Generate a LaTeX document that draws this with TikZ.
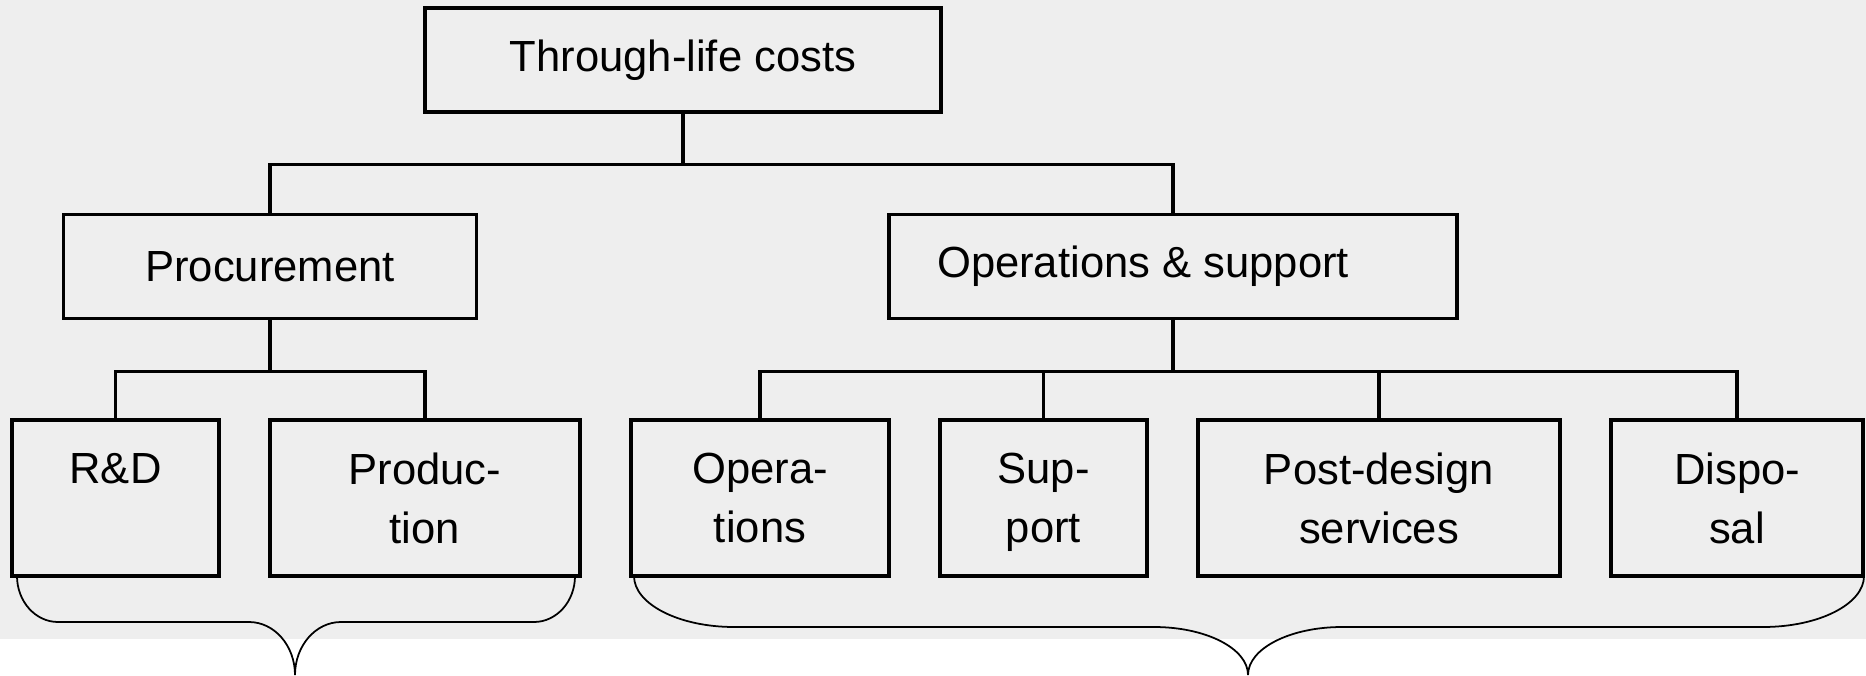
\documentclass[tikz,border=0pt]{standalone}
\usepackage{fontspec}
\setmainfont{Liberation Sans}
\usepackage{xcolor}
\usepackage{tikz}
\usetikzlibrary{calc, positioning}
\definecolor{panelgrey}{RGB}{238,238,238}
\newcommand{\boxfont}{\fontsize{12.4}{16.8}\selectfont}
\tikzset{
    boxnode/.style = {draw, rectangle, line width=0.9pt, inner sep = 0em, node distance=0em, 
      font=\boxfont, align=center},
    headnode/.style = {boxnode, minimum height=1.04cm},
    leafnode/.style = {boxnode, minimum height=1.56cm},
    connect/.style = {black, line width=0.9pt},
    bracket/.style = {black, line width=0.5pt}
}
\begin{document}
\begin{tikzpicture}
    \useasboundingbox (0,0) rectangle (18.66,6.75);
    \fill [panelgrey] (0,0.36) rectangle (18.66,6.75);

    \node [headnode, name=total, minimum width=5.16cm] at (6.83,6.15) {Through-life costs};
    \node [headnode, name=proc, minimum width=4.13cm, below of = total, xshift=-4.13cm, yshift=-2.065cm] {Procurement};
    \node [headnode, name=ops, minimum width=5.68cm, below of = total, xshift=4.90cm, yshift=-2.065cm] {Operations \& support\hspace*{0.6cm}};

    \node [leafnode, name=rd, minimum width=2.07cm, below of = proc, xshift=-1.545cm, yshift=-2.315cm] {R\&D\\\phantom{tion}};
    \node [leafnode, name=prod, minimum width=3.10cm, below of = proc, xshift=1.55cm, yshift=-2.315cm] {Produc-\\tion};
    \node [leafnode, name=opn, minimum width=2.58cm, below of = ops, xshift=-4.13cm, yshift=-2.315cm] {Opera-\\tions};
    \node [leafnode, name=sup, minimum width=2.07cm, below of = ops, xshift=-1.295cm, yshift=-2.315cm] {Sup-\\\smash{port}};
    \node [leafnode, name=post, minimum width=3.62cm, below of = ops, xshift=2.06cm, yshift=-2.315cm] {Post-design\\services};
    \node [leafnode, name=disp, minimum width=2.52cm, below of = ops, xshift=5.64cm, yshift=-2.315cm] {Dispo-\\sal};

    \draw [connect] (total.south) -- ++(0,-0.51) coordinate (tjoin);
    \draw [connect] (proc.north) |- (tjoin) -| (ops.north);
    \draw [connect] (proc.south) -- ++(0,-0.51) coordinate (pjoin);
    \draw [connect] (rd.north) |- (pjoin) -| (prod.north);
    \draw [connect] (ops.south) -- ++(0,-0.51) coordinate (ojoin);
    \draw [connect] (opn.north) |- (ojoin) -| (disp.north);
    \draw [connect] (sup.north) -- (sup.north |- ojoin);
    \draw [connect] (post.north) -- (post.north |- ojoin);

    \draw [bracket] (0.17,0.99) .. controls (0.17,0.736) and (0.354,0.53) .. (0.58,0.53) -- (2.49,0.53)
      .. controls (2.744,0.53) and (2.95,0.293) .. (2.95,0)
      .. controls (2.95,0.293) and (3.156,0.53) .. (3.41,0.53) -- (5.34,0.53)
      .. controls (5.566,0.53) and (5.75,0.736) .. (5.75,0.99);
    \draw [bracket] (6.34,0.99) .. controls (6.34,0.71) and (6.788,0.48) .. (7.34,0.48) -- (11.54,0.48)
      .. controls (12.06,0.48) and (12.48,0.265) .. (12.48,0)
      .. controls (12.48,0.265) and (12.90,0.48) .. (13.42,0.48) -- (17.63,0.48)
      .. controls (18.19,0.48) and (18.64,0.71) .. (18.64,0.99);
\end{tikzpicture}
\end{document}
